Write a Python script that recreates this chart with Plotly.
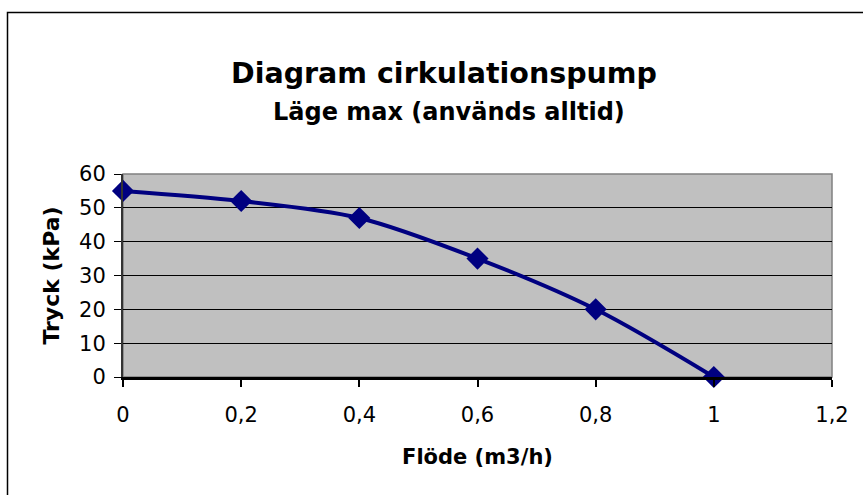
import plotly.graph_objects as go

flow = [0, 0.2, 0.4, 0.6, 0.8, 1.0]
pressure = [55, 52, 47, 35, 20, 0]
x_ticks = [0, 0.2, 0.4, 0.6, 0.8, 1.0, 1.2]
y_ticks = [0, 10, 20, 30, 40, 50, 60]

W, H = 863, 495
L, R, T, B = 123, 31, 174, 118
pw, ph = W - L - R, H - T - B

def px(x):
    return (x - L) / pw

def py(y):
    return (H - B - y) / ph

fig = go.Figure()
fig.add_trace(go.Scatter(
    x=flow, y=pressure, mode="lines+markers",
    line=dict(color="#000080", width=4, shape="spline", smoothing=0.9),
    marker=dict(symbol="diamond", size=17, color="#000080"),
    cliponaxis=False, showlegend=False,
))

font = "DejaVu Sans, Liberation Sans, Arial, sans-serif"
fig.update_layout(
    width=W, height=H,
    margin=dict(l=L, r=R, t=T, b=B),
    paper_bgcolor="white", plot_bgcolor="#C0C0C0",
    separators=",.",
    font=dict(family=font, color="black"),
    xaxis=dict(
        range=[0, 1.2], tickvals=x_ticks, ticks="outside", ticklen=7,
        tickwidth=1.5, tickcolor="black", tickfont=dict(size=21),
        showline=True, linecolor="black", linewidth=3, showgrid=False,
        zeroline=False, ticklabelstandoff=10,
        title=dict(text="<b>Flöde (m3/h)</b>", font=dict(size=21), standoff=24),
    ),
    yaxis=dict(
        range=[0, 60], tickvals=y_ticks, ticks="outside", ticklen=7,
        tickwidth=1.2, tickcolor="black", tickfont=dict(size=21),
        showline=True, linecolor="#333333", linewidth=2, showgrid=True,
        gridcolor="black", gridwidth=1, zeroline=False, ticklabelstandoff=4,
        title=dict(text="<b>Tryck (kPa)</b>", font=dict(size=22), standoff=13),
    ),
    shapes=[
        dict(type="rect", xref="paper", yref="paper", x0=0, x1=1, y0=0, y1=1,
             line=dict(color="#808080", width=1.5), layer="below"),
        dict(type="rect", xref="paper", yref="paper",
             x0=px(7.5), x1=px(875), y0=py(510), y1=py(12.5),
             line=dict(color="black", width=1.5)),
    ],
    annotations=[
        dict(text="<b>Diagram cirkulationspump</b>", xref="paper", yref="paper",
             x=px(444), y=py(55), showarrow=False, font=dict(size=28.5)),
        dict(text="<b>Läge max (används alltid)</b>", xref="paper", yref="paper",
             x=px(449), y=py(96), showarrow=False, font=dict(size=24)),
    ],
)
fig.write_html("out.html", config={"displayModeBar": False},
               post_script="document.body.style.margin='0';document.body.style.overflow='hidden';")
